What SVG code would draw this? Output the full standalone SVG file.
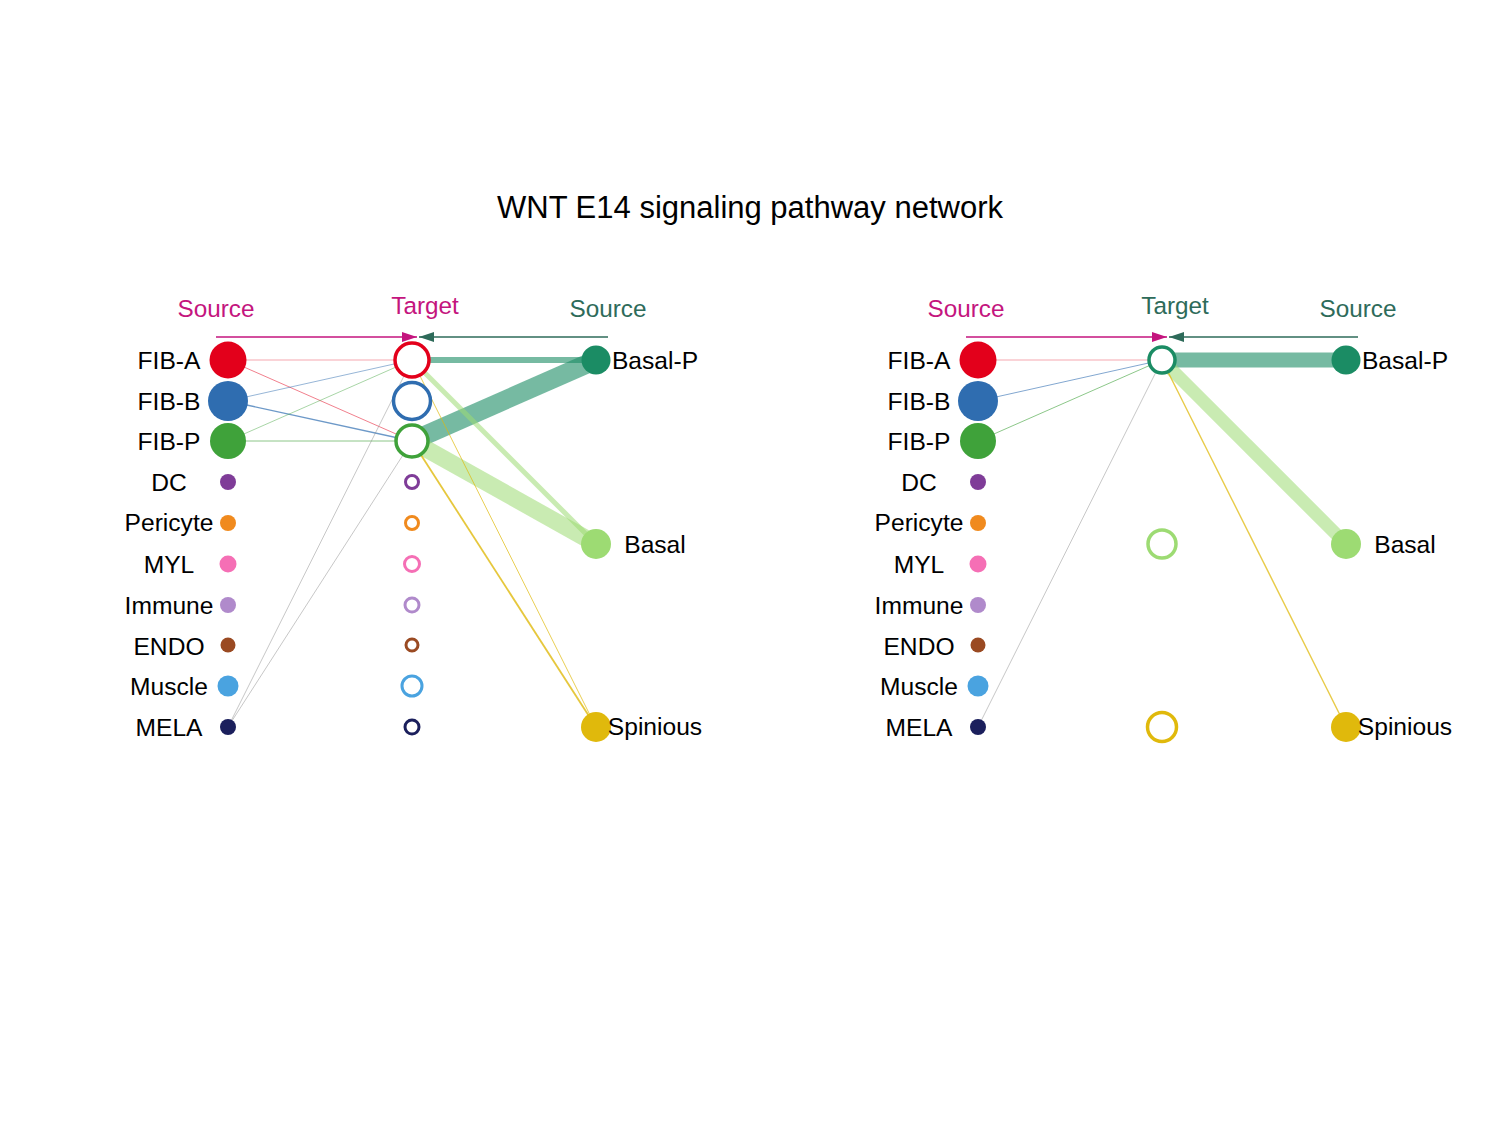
<svg xmlns="http://www.w3.org/2000/svg" width="1500" height="1125" viewBox="0 0 1500 1125">
<style>
text{font-family:"Liberation Sans",Arial,sans-serif;fill:#000}
.t{font-size:31px;text-anchor:middle}
.h{font-size:24.3px;text-anchor:middle}
.lab{font-size:24.6px;text-anchor:middle}
.mg{fill:#C4157E}
.dg{fill:#2E6B5A}
.ring{fill:#fff}
.e{fill:none;stroke-linecap:butt}
</style>
<defs>
<marker id="am" markerUnits="userSpaceOnUse" markerWidth="16" markerHeight="12" refX="15" refY="5" orient="auto"><path d="M0,0 L15,5 L0,10 Z" fill="#C4157E"/></marker>
<marker id="ag" markerUnits="userSpaceOnUse" markerWidth="16" markerHeight="12" refX="15" refY="5" orient="auto"><path d="M0,0 L15,5 L0,10 Z" fill="#2E6B5A"/></marker>
</defs>
<rect width="1500" height="1125" fill="#fff"/>
<text class="t" x="750" y="218">WNT E14 signaling pathway network</text>

<g id="headers">
<text class="h mg" x="216" y="317">Source</text>
<text class="h mg" x="425" y="314">Target</text>
<text class="h dg" x="608" y="317">Source</text>
<line x1="216" y1="337" x2="417" y2="337" stroke="#C4157E" stroke-width="1.5" marker-end="url(#am)"/>
<line x1="608" y1="337" x2="419" y2="337" stroke="#2E6B5A" stroke-width="1.5" marker-end="url(#ag)"/>
<text class="h mg" x="966" y="317">Source</text>
<text class="h dg" x="1175" y="314">Target</text>
<text class="h dg" x="1358" y="317">Source</text>
<line x1="966" y1="337" x2="1167" y2="337" stroke="#C4157E" stroke-width="1.5" marker-end="url(#am)"/>
<line x1="1358" y1="337" x2="1169" y2="337" stroke="#2E6B5A" stroke-width="1.5" marker-end="url(#ag)"/>
</g>

<g id="connectors">
<!-- left panel -->
<line class="e" x1="228" y1="360" x2="412" y2="360" stroke="#E3001B" stroke-opacity="0.35" stroke-width="1"/>
<line class="e" x1="228" y1="360" x2="412" y2="441" stroke="#E3001B" stroke-opacity="0.5" stroke-width="1"/>
<line class="e" x1="228" y1="401" x2="412" y2="360" stroke="#2F6DB0" stroke-opacity="0.5" stroke-width="1"/>
<line class="e" x1="228" y1="401" x2="412" y2="441" stroke="#2F6DB0" stroke-opacity="0.7" stroke-width="1.4"/>
<line class="e" x1="228" y1="441" x2="412" y2="360" stroke="#3FA23A" stroke-opacity="0.45" stroke-width="1"/>
<line class="e" x1="228" y1="441" x2="412" y2="441" stroke="#3FA23A" stroke-opacity="0.6" stroke-width="1"/>
<line class="e" x1="228" y1="727" x2="412" y2="360" stroke="#888" stroke-opacity="0.6" stroke-width="0.8"/>
<line class="e" x1="228" y1="727" x2="412" y2="441" stroke="#888" stroke-opacity="0.6" stroke-width="0.8"/>
<line class="e" x1="596" y1="360" x2="412" y2="360" stroke="#1B8C64" stroke-opacity="0.6" stroke-width="6"/>
<line class="e" x1="596" y1="360" x2="412" y2="441" stroke="#1B8C64" stroke-opacity="0.6" stroke-width="19"/>
<line class="e" x1="596" y1="544" x2="412" y2="360" stroke="#9DDB73" stroke-opacity="0.55" stroke-width="5"/>
<line class="e" x1="596" y1="544" x2="412" y2="441" stroke="#9DDB73" stroke-opacity="0.55" stroke-width="17"/>
<line class="e" x1="596" y1="727" x2="412" y2="360" stroke="#E0B90C" stroke-opacity="0.7" stroke-width="1"/>
<line class="e" x1="596" y1="727" x2="412" y2="441" stroke="#E0B90C" stroke-opacity="0.8" stroke-width="1.8"/>
<!-- right panel -->
<line class="e" x1="978" y1="360" x2="1162" y2="360" stroke="#E3001B" stroke-opacity="0.35" stroke-width="1"/>
<line class="e" x1="978" y1="401" x2="1162" y2="360" stroke="#2F6DB0" stroke-opacity="0.6" stroke-width="1"/>
<line class="e" x1="978" y1="441" x2="1162" y2="360" stroke="#3FA23A" stroke-opacity="0.6" stroke-width="1"/>
<line class="e" x1="978" y1="727" x2="1162" y2="360" stroke="#888" stroke-opacity="0.6" stroke-width="0.8"/>
<line class="e" x1="1346" y1="360" x2="1162" y2="360" stroke="#1B8C64" stroke-opacity="0.6" stroke-width="15"/>
<line class="e" x1="1346" y1="544" x2="1162" y2="360" stroke="#9DDB73" stroke-opacity="0.55" stroke-width="13"/>
<line class="e" x1="1346" y1="727" x2="1162" y2="360" stroke="#E0B90C" stroke-opacity="0.75" stroke-width="1.4"/>
</g>

<!-- left panel nodes -->
<g id="L-FIB-A"><circle cx="228" cy="360" r="18.5" fill="#E3001B"/><text class="lab" x="169" y="369">FIB-A</text></g>
<g id="L-FIB-B"><circle cx="228" cy="401" r="20" fill="#2F6DB0"/><text class="lab" x="169" y="410">FIB-B</text></g>
<g id="L-FIB-P"><circle cx="228" cy="441" r="18" fill="#3FA23A"/><text class="lab" x="169" y="450">FIB-P</text></g>
<g id="L-DC"><circle cx="228" cy="482" r="8" fill="#7F3C98"/><text class="lab" x="169" y="491">DC</text></g>
<g id="L-Pericyte"><circle cx="228" cy="523" r="8" fill="#F08A1E"/><text class="lab" x="169" y="531">Pericyte</text></g>
<g id="L-MYL"><circle cx="228" cy="564" r="8.5" fill="#F56FB5"/><text class="lab" x="169" y="573">MYL</text></g>
<g id="L-Immune"><circle cx="228" cy="605" r="8" fill="#B08ACB"/><text class="lab" x="169" y="614">Immune</text></g>
<g id="L-ENDO"><circle cx="228" cy="645" r="7.5" fill="#9A4A22"/><text class="lab" x="169" y="655">ENDO</text></g>
<g id="L-Muscle"><circle cx="228" cy="686" r="10.5" fill="#4AA3E0"/><text class="lab" x="169" y="695">Muscle</text></g>
<g id="L-MELA"><circle cx="228" cy="727" r="8" fill="#1B1F5C"/><text class="lab" x="169" y="736">MELA</text></g>

<g id="L-T-FIB-A"><circle class="ring" cx="412" cy="360" r="17" stroke="#E3001B" stroke-width="3.5"/></g>
<g id="L-T-FIB-B"><circle class="ring" cx="412" cy="401" r="18.5" stroke="#2F6DB0" stroke-width="3.5"/></g>
<g id="L-T-FIB-P"><circle class="ring" cx="412" cy="441" r="16" stroke="#3FA23A" stroke-width="3.5"/></g>
<g id="L-T-DC"><circle class="ring" cx="412" cy="482" r="6.5" stroke="#7F3C98" stroke-width="3"/></g>
<g id="L-T-Pericyte"><circle class="ring" cx="412" cy="523" r="6.5" stroke="#F08A1E" stroke-width="3"/></g>
<g id="L-T-MYL"><circle class="ring" cx="412" cy="564" r="7.5" stroke="#F56FB5" stroke-width="3"/></g>
<g id="L-T-Immune"><circle class="ring" cx="412" cy="605" r="7" stroke="#B08ACB" stroke-width="3"/></g>
<g id="L-T-ENDO"><circle class="ring" cx="412" cy="645" r="6" stroke="#9A4A22" stroke-width="3"/></g>
<g id="L-T-Muscle"><circle class="ring" cx="412" cy="686" r="10" stroke="#4AA3E0" stroke-width="3"/></g>
<g id="L-T-MELA"><circle class="ring" cx="412" cy="727" r="7" stroke="#1B1F5C" stroke-width="3"/></g>

<g id="L-Basal-P"><circle cx="596" cy="360" r="14.5" fill="#1B8C64"/><text class="lab" x="655" y="369">Basal-P</text></g>
<g id="L-Basal"><circle cx="596" cy="544" r="15" fill="#9DDB73"/><text class="lab" x="655" y="553">Basal</text></g>
<g id="L-Spinious"><circle cx="596" cy="727" r="15" fill="#E0B90C"/><text class="lab" x="655" y="735">Spinious</text></g>

<!-- right panel nodes -->
<g id="R-FIB-A"><circle cx="978" cy="360" r="18.5" fill="#E3001B"/><text class="lab" x="919" y="369">FIB-A</text></g>
<g id="R-FIB-B"><circle cx="978" cy="401" r="20" fill="#2F6DB0"/><text class="lab" x="919" y="410">FIB-B</text></g>
<g id="R-FIB-P"><circle cx="978" cy="441" r="18" fill="#3FA23A"/><text class="lab" x="919" y="450">FIB-P</text></g>
<g id="R-DC"><circle cx="978" cy="482" r="8" fill="#7F3C98"/><text class="lab" x="919" y="491">DC</text></g>
<g id="R-Pericyte"><circle cx="978" cy="523" r="8" fill="#F08A1E"/><text class="lab" x="919" y="531">Pericyte</text></g>
<g id="R-MYL"><circle cx="978" cy="564" r="8.5" fill="#F56FB5"/><text class="lab" x="919" y="573">MYL</text></g>
<g id="R-Immune"><circle cx="978" cy="605" r="8" fill="#B08ACB"/><text class="lab" x="919" y="614">Immune</text></g>
<g id="R-ENDO"><circle cx="978" cy="645" r="7.5" fill="#9A4A22"/><text class="lab" x="919" y="655">ENDO</text></g>
<g id="R-Muscle"><circle cx="978" cy="686" r="10.5" fill="#4AA3E0"/><text class="lab" x="919" y="695">Muscle</text></g>
<g id="R-MELA"><circle cx="978" cy="727" r="8" fill="#1B1F5C"/><text class="lab" x="919" y="736">MELA</text></g>

<g id="R-T-Basal-P"><circle class="ring" cx="1162" cy="360" r="13" stroke="#1B8C64" stroke-width="3.5"/></g>
<g id="R-T-Basal"><circle class="ring" cx="1162" cy="544" r="14" stroke="#9DDB73" stroke-width="3.5"/></g>
<g id="R-T-Spinious"><circle class="ring" cx="1162" cy="727" r="14.5" stroke="#E0B90C" stroke-width="3.5"/></g>

<g id="R-Basal-P"><circle cx="1346" cy="360" r="14.5" fill="#1B8C64"/><text class="lab" x="1405" y="369">Basal-P</text></g>
<g id="R-Basal"><circle cx="1346" cy="544" r="15" fill="#9DDB73"/><text class="lab" x="1405" y="553">Basal</text></g>
<g id="R-Spinious"><circle cx="1346" cy="727" r="15" fill="#E0B90C"/><text class="lab" x="1405" y="735">Spinious</text></g>
</svg>
